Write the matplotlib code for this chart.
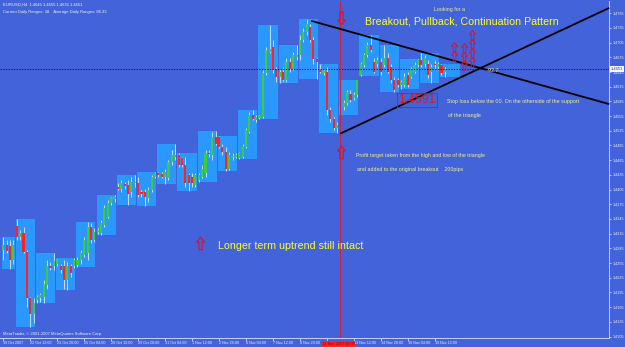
import matplotlib
matplotlib.use("Agg")
import matplotlib.pyplot as plt
from matplotlib.patches import Rectangle
from matplotlib.path import Path

# EURUSD H4 bars (bar index = position on the chart)
opens = [1.4282, 1.4292, 1.4290, 1.4261, 1.4331, 1.4309, 1.4316, 1.4278, 1.4183, 1.4152,
         1.4180, 1.4183, 1.4186, 1.4210, 1.4249, 1.4248, 1.4254, 1.4249, 1.4249, 1.4220,
         1.4249, 1.4248, 1.4251, 1.4261, 1.4271, 1.4275, 1.4329, 1.4302, 1.4318, 1.4316,
         1.4333, 1.4350, 1.4377, 1.4385, 1.4411, 1.4407, 1.4416, 1.4414, 1.4401, 1.4418,
         1.4419, 1.4401, 1.4401, 1.4387, 1.4405, 1.4431, 1.4438, 1.4436, 1.4431, 1.4428,
         1.4462, 1.4472, 1.4475, 1.4469, 1.4455, 1.4435, 1.4431, 1.4414, 1.4424, 1.4431,
         1.4438, 1.4480, 1.4475, 1.4513, 1.4513, 1.4492, 1.4482, 1.4448, 1.4471, 1.4472,
         1.4469, 1.4472, 1.4492, 1.4523, 1.4557, 1.4548, 1.4552, 1.4554, 1.4642, 1.4686,
         1.4696, 1.4652, 1.4635, 1.4645, 1.4628, 1.4666, 1.4652, 1.4676, 1.4679, 1.4710,
         1.4727, 1.4737, 1.4710, 1.4671, 1.4649, 1.4643, 1.4645, 1.4567, 1.4550, 1.4530,
         1.4560, 1.4574, 1.4581, 1.4601, 1.4591, 1.4598, 1.4639, 1.4659, 1.4679, 1.4700,
         1.4666, 1.4662, 1.4666, 1.4659, 1.4673, 1.4656, 1.4628, 1.4628, 1.4618, 1.4618,
         1.4639, 1.4635, 1.4645, 1.4659, 1.4669, 1.4662, 1.4662, 1.4645, 1.4662, 1.4656,
         1.4659, 1.4645]
highs = [1.4309, 1.4302, 1.4302, 1.4302, 1.4345, 1.4322, 1.4329, 1.4282, 1.4186, 1.4183,
         1.4190, 1.4193, 1.4220, 1.4261, 1.4258, 1.4275, 1.4263, 1.4254, 1.4261, 1.4258,
         1.4254, 1.4265, 1.4268, 1.4282, 1.4309, 1.4339, 1.4336, 1.4326, 1.4326, 1.4343,
         1.4373, 1.4384, 1.4390, 1.4394, 1.4418, 1.4424, 1.4421, 1.4424, 1.4431, 1.4435,
         1.4431, 1.4404, 1.4407, 1.4411, 1.4435, 1.4440, 1.4441, 1.4441, 1.4448, 1.4465,
         1.4486, 1.4499, 1.4479, 1.4472, 1.4472, 1.4438, 1.4438, 1.4438, 1.4438, 1.4455,
         1.4486, 1.4486, 1.4523, 1.4524, 1.4515, 1.4499, 1.4492, 1.4482, 1.4479, 1.4479,
         1.4482, 1.4499, 1.4530, 1.4564, 1.4567, 1.4557, 1.4557, 1.4649, 1.4696, 1.4741,
         1.4710, 1.4656, 1.4652, 1.4656, 1.4673, 1.4673, 1.4686, 1.4700, 1.4720, 1.4734,
         1.4753, 1.4744, 1.4717, 1.4673, 1.4662, 1.4652, 1.4656, 1.4574, 1.4554, 1.4543,
         1.4577, 1.4588, 1.4608, 1.4608, 1.4605, 1.4628, 1.4666, 1.4683, 1.4707, 1.4720,
         1.4673, 1.4676, 1.4673, 1.4701, 1.4683, 1.4662, 1.4635, 1.4632, 1.4628, 1.4642,
         1.4645, 1.4656, 1.4666, 1.4671, 1.4683, 1.4679, 1.4669, 1.4662, 1.4669, 1.4666,
         1.4662, 1.4655]
lows = [1.4261, 1.4275, 1.4243, 1.4254, 1.4302, 1.4302, 1.4275, 1.4166, 1.4124, 1.4132,
        1.4173, 1.4176, 1.4173, 1.4203, 1.4241, 1.4241, 1.4248, 1.4234, 1.4203, 1.4200,
        1.4227, 1.4244, 1.4246, 1.4254, 1.4268, 1.4261, 1.4295, 1.4299, 1.4314, 1.4312,
        1.4329, 1.4346, 1.4373, 1.4380, 1.4404, 1.4401, 1.4407, 1.4373, 1.4390, 1.4411,
        1.4390, 1.4390, 1.4372, 1.4380, 1.4401, 1.4428, 1.4431, 1.4428, 1.4416, 1.4424,
        1.4455, 1.4465, 1.4452, 1.4452, 1.4411, 1.4403, 1.4411, 1.4411, 1.4420, 1.4428,
        1.4431, 1.4472, 1.4465, 1.4496, 1.4489, 1.4475, 1.4443, 1.4445, 1.4465, 1.4469,
        1.4467, 1.4470, 1.4489, 1.4520, 1.4547, 1.4543, 1.4550, 1.4552, 1.4639, 1.4683,
        1.4642, 1.4625, 1.4623, 1.4625, 1.4625, 1.4645, 1.4649, 1.4669, 1.4669, 1.4707,
        1.4720, 1.4707, 1.4662, 1.4630, 1.4642, 1.4639, 1.4557, 1.4543, 1.4526, 1.4520,
        1.4557, 1.4567, 1.4577, 1.4584, 1.4588, 1.4594, 1.4637, 1.4656, 1.4676, 1.4686,
        1.4642, 1.4656, 1.4639, 1.4656, 1.4642, 1.4622, 1.4605, 1.4615, 1.4611, 1.4615,
        1.4615, 1.4632, 1.4642, 1.4656, 1.4656, 1.4656, 1.4632, 1.4622, 1.4652, 1.4649,
        1.4639, 1.4635]
closes = [1.4292, 1.4280, 1.4261, 1.4292, 1.4309, 1.4316, 1.4278, 1.4183, 1.4152, 1.4173,
          1.4186, 1.4190, 1.4212, 1.4249, 1.4244, 1.4260, 1.4261, 1.4241, 1.4220, 1.4248,
          1.4234, 1.4261, 1.4261, 1.4275, 1.4302, 1.4329, 1.4302, 1.4319, 1.4322, 1.4336,
          1.4367, 1.4377, 1.4387, 1.4390, 1.4407, 1.4418, 1.4412, 1.4397, 1.4421, 1.4421,
          1.4394, 1.4397, 1.4389, 1.4405, 1.4430, 1.4438, 1.4435, 1.4431, 1.4441, 1.4462,
          1.4475, 1.4475, 1.4455, 1.4455, 1.4418, 1.4418, 1.4418, 1.4435, 1.4435, 1.4448,
          1.4479, 1.4477, 1.4513, 1.4499, 1.4492, 1.4482, 1.4448, 1.4475, 1.4473, 1.4475,
          1.4479, 1.4494, 1.4526, 1.4557, 1.4550, 1.4554, 1.4555, 1.4642, 1.4690, 1.4693,
          1.4652, 1.4635, 1.4645, 1.4628, 1.4666, 1.4652, 1.4679, 1.4679, 1.4710, 1.4727,
          1.4744, 1.4710, 1.4671, 1.4666, 1.4645, 1.4647, 1.4567, 1.4550, 1.4530, 1.4537,
          1.4574, 1.4581, 1.4605, 1.4588, 1.4598, 1.4628, 1.4662, 1.4679, 1.4700, 1.4690,
          1.4645, 1.4669, 1.4645, 1.4673, 1.4645, 1.4628, 1.4608, 1.4618, 1.4625, 1.4635,
          1.4618, 1.4649, 1.4659, 1.4669, 1.4659, 1.4673, 1.4639, 1.4656, 1.4659, 1.4662,
          1.4642, 1.4651]

# first bar of each trading day (daily range boxes)
day_starts = [0, 4, 10, 16, 22, 28, 34, 40, 46, 52, 58, 64, 70, 76, 82, 88, 94,
              100, 106, 112, 118, 124, 130]
bars_per_day = 6

# "12 Nov 04:00" sits under the red marker label, so it stays blank
time_labels = ["19 Oct 2007", "22 Oct 12:00", "23 Oct 20:00", "25 Oct 04:00",
               "26 Oct 12:00", "29 Oct 20:00", "31 Oct 04:00", "1 Nov 12:00",
               "2 Nov 20:00", "6 Nov 04:00", "7 Nov 12:00", "8 Nov 20:00",
               "", "13 Nov 12:00", "14 Nov 20:00", "16 Nov 04:00",
               "19 Nov 12:00"]
label_every = 8

price_ticks = [1.4765, 1.4735, 1.4705, 1.4675, 1.4645, 1.4615, 1.4585, 1.4555,
               1.4525, 1.4495, 1.4465, 1.4435, 1.4405, 1.4375, 1.4345, 1.4315,
               1.4285, 1.4255, 1.4225, 1.4195, 1.4165, 1.4135, 1.4105]
current_price = 1.4651

marker_bar = 100
marker_label = "12 Nov 2007 00:00"

# triangle trendlines (bar index, price)
upper_line_x = [91.6, 179.5]
upper_line_y = [1.4749, 1.4580]
lower_line_x = [100.2, 179.5]
lower_line_y = [1.4520, 1.4775]

W, H = 625, 347
BG = "#4363da"
BOX = "#2a98ff"
BULL = "#3ccc3c"
BEAR = "#ff2222"
WICK = "#dfe6ff"
YEL = "#ffff33"
PALE = "#f0f090"
ARROW_RED = "#e0102a"
FONT = ["Liberation Sans", "DejaVu Sans"]

fig = plt.figure(figsize=(W / 100, H / 100), dpi=100)
fig.patch.set_facecolor(BG)
ax = fig.add_axes([0, 9 / H, 609 / W, (H - 1 - 9) / H])
ax.set_facecolor(BG)
ax.set_xlim(-0.98, 179.7)
ax.set_ylim(1.4102, 1.4790)

# daily range boxes
n = len(opens)
for k, s in enumerate(day_starts):
    e = min(day_starts[k + 1] if k + 1 < len(day_starts) else n, n)
    hi = max(highs[s:e])
    lo = min(lows[s:e])
    x0 = s - 0.35
    x1 = s + bars_per_day - 1 + 0.35 if k + 1 == len(day_starts) else e - 1 + 0.35
    ax.add_patch(Rectangle((x0, lo), x1 - x0, hi - lo, facecolor=BOX,
                           edgecolor="none", zorder=1))

# candles
for i in range(n):
    o, h, l, c = opens[i], highs[i], lows[i], closes[i]
    ax.vlines(i, l, h, color=WICK, lw=0.6, zorder=2)
    col = BULL if c >= o else BEAR
    ax.bar(i, max(abs(c - o), 0.00008), bottom=min(o, c), width=0.62,
           color=col, edgecolor="none", zorder=3)

# current price line and vertical marker
ax.axhline(current_price, color="#1a1a50", lw=0.8, ls=(0, (1.2, 1.2)), zorder=4)
ax.axvline(marker_bar, color="#d0203a", lw=0.8, zorder=4)

# triangle
ax.plot(upper_line_x, upper_line_y, color="black", lw=1.3, zorder=5, clip_on=False)
ax.plot(lower_line_x, lower_line_y, color="black", lw=1.3, zorder=5, clip_on=False)

# axes styling
for side in ["left", "top"]:
    ax.spines[side].set_visible(False)
for side in ["right", "bottom"]:
    ax.spines[side].set_color("#c8d2ff")
    ax.spines[side].set_linewidth(0.7)
ax.yaxis.tick_right()
ax.set_yticks(price_ticks)
ax.set_yticklabels([f"{p:.4f}" for p in price_ticks])
ax.set_xticks([i * label_every for i in range(len(time_labels))])
ax.set_xticklabels(time_labels)
ax.tick_params(axis="y", colors="#e8ecff", labelsize=2.7, length=1.5, width=0.5, pad=0.8)
ax.tick_params(axis="x", colors="#e8ecff", labelsize=2.7, length=2, width=0.5, pad=0.5)
for t in ax.get_xticklabels():
    t.set_ha("left")
for t in ax.get_xticklabels() + ax.get_yticklabels():
    t.set_family(FONT)

# current price label and marker date label
ax.text(1.003, current_price, f"{current_price:.4f}", transform=ax.get_yaxis_transform(),
        fontsize=2.9, color="#1a2a80", va="center", ha="left", family=FONT,
        bbox=dict(boxstyle="square,pad=0.15", facecolor="white", edgecolor="none"))
ax.text(marker_bar - 0.6, -0.012, marker_label, transform=ax.get_xaxis_transform(),
        fontsize=2.8, color="#8a0000", va="top", ha="center", family=FONT, zorder=6,
        bbox=dict(boxstyle="square,pad=0.15", facecolor="#ff2020", edgecolor="none"))


def fp(x, y):
    return x / W, 1 - y / H


def note(x, y, s, size, color, **kw):
    fig.text(*fp(x, y), s, fontsize=size, color=color, family=FONT, **kw)


# header
note(3, 5, "EURUSD,H4  1.4645 1.4655 1.4635 1.4651", 3.0, "#f0f0ff", va="center")
note(3, 12, "Current Daily Ranges: 38    Average Daily Ranges: 86.33", 3.0, "#f0f0ff", va="center")
note(3, 334, "MetaTrader, \u00a9 2001-2007 MetaQuotes Software Corp.", 3.0, "#f0f0ff", va="center")

# annotations
note(450, 10, "Looking for a", 3.8, PALE, ha="center", va="center")
note(365, 22, "Breakout, Pullback, Continuation Pattern", 7.7, YEL, va="center")
note(218, 246, "Longer term uptrend still intact", 7.7, YEL, va="center")
note(447, 101, "Stop loss below the 00. On the otherside of the support", 3.85, PALE, va="center")
note(448, 116, "of the triangle", 3.85, PALE, va="center")
note(356, 155, "Profit target taken from the high and low of the triangle", 3.8, PALE, va="center")
note(357, 170, "and added to the original breakout    200pips", 3.8, PALE, va="center")
note(486, 71, "~92.7", 3.8, PALE, ha="left", va="center")
note(417, 100, "1.4591", 8.8, "#e01818", ha="center", va="center",
     bbox=dict(boxstyle="square,pad=0.1", facecolor="none", edgecolor="#c01830", lw=0.6))

# red hollow arrows (MetaTrader arrow objects)
up_arrow = Path([(0, 1), (0.62, 0.25), (0.26, 0.25), (0.26, -1), (-0.26, -1),
                 (-0.26, 0.25), (-0.62, 0.25), (0, 1)], closed=True)
down_arrow = Path([(x, -y) for x, y in up_arrow.vertices], closed=True)
big_arrows = [(341, 18, down_arrow), (341, 152, up_arrow), (200, 243, up_arrow)]
small_arrows = [(454, 47), (454, 56), (464, 48), (464, 57), (464, 65),
                (472, 35), (472, 44), (472, 53), (472, 62)]
for x, y, m in big_arrows:
    ax.plot(*fp(x, y), marker=m, ms=9, mfc="none", mec=ARROW_RED, mew=0.9,
            transform=fig.transFigure, clip_on=False, zorder=7)
for x, y in small_arrows:
    ax.plot(*fp(x, y), marker=up_arrow, ms=7, mfc="none", mec=ARROW_RED, mew=0.7,
            transform=fig.transFigure, clip_on=False, zorder=7)

fig.savefig("out.png", dpi=100, facecolor=BG)
